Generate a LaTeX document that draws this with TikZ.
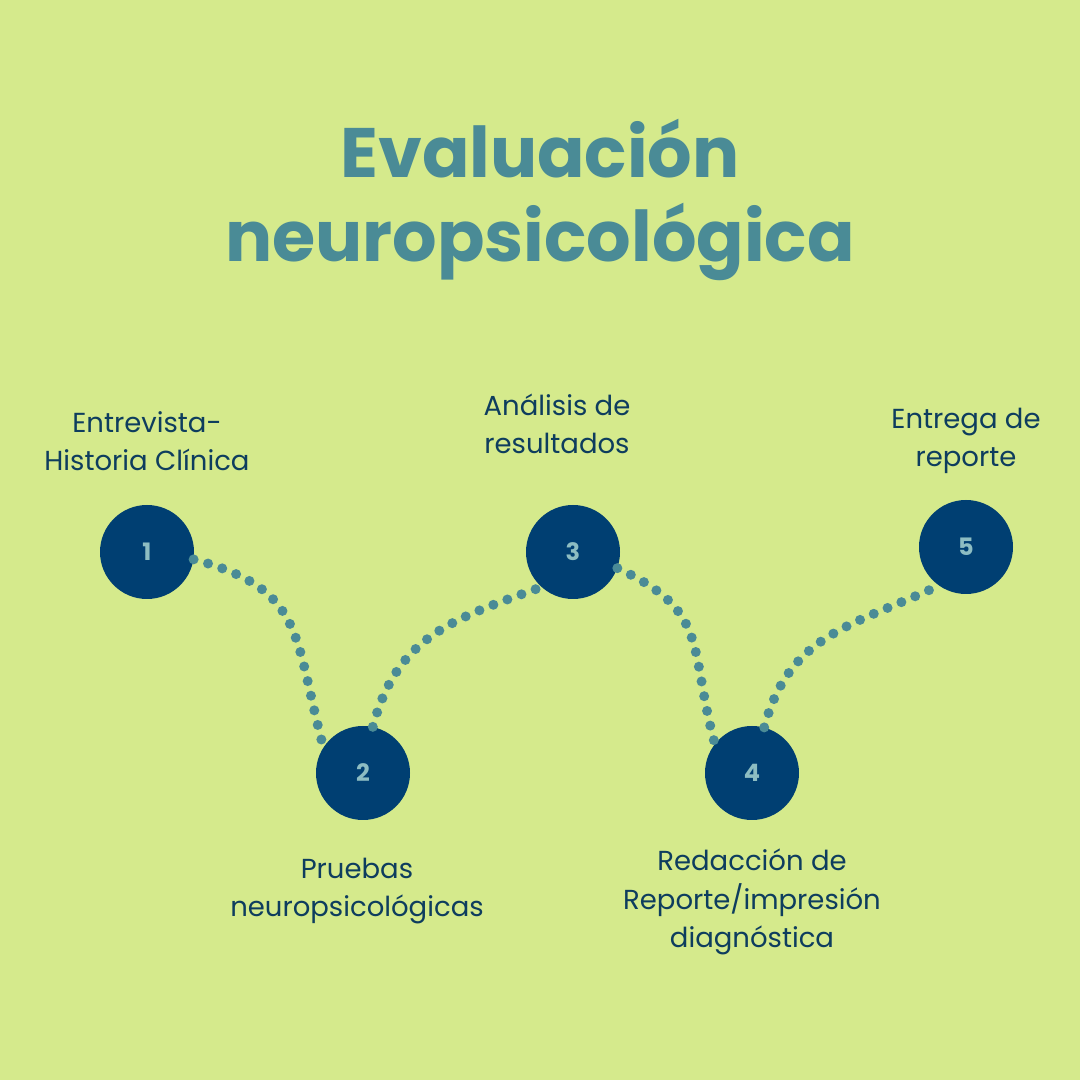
\documentclass[tikz,border=0pt]{standalone}
\usepackage{fontspec}
\setmainfont{Poppins}
\usepackage{tikz}
\usetikzlibrary{positioning}
\usepackage{xcolor}
\definecolor{bglime}{HTML}{D5EA8C}
\definecolor{stepnavy}{HTML}{003F72}
\definecolor{textnavy}{HTML}{0E3D5E}
\definecolor{tealdot}{HTML}{4A8B96}
\definecolor{numteal}{HTML}{8DBDC2}

\begin{document}
\begin{tikzpicture}[
    x=1pt, y=1pt,
    stepdot/.style={circle, fill=stepnavy, minimum size=94pt, inner sep=0pt, text=numteal, font=\fontsize{24}{24}\selectfont\bfseries},
    steplabel/.style={text=textnavy, align=center, font=\fontsize{27.5}{38.5}\selectfont},
    trail/.style={draw=tealdot, line width=10pt, line cap=round, dash pattern=on 0pt off 15pt},
]
\fill[bglime] (0,0) rectangle (1080,1080);
\node[text=tealdot, align=center, font=\fontsize{70}{84}\selectfont\bfseries] (title) at (540,880) {Evaluación\\neuropsicológica};
\node[stepdot] (s1) at (147,528) {1};
\node[stepdot] (s2) at (363,307) {2};
\node[stepdot] (s3) at (573,528) {3};
\node[stepdot] (s4) at (752,307) {4};
\node[stepdot] (s5) at (966,533) {5};
\node[steplabel] (l1) at (147,639) {Entrevista-\\Historia Clínica};
\node[steplabel] (l2) at (357,189) {Pruebas\\neuropsicológicas};
\node[steplabel] (l3) at (557,656) {Análisis de\\resultados};
\node[steplabel] (l4) at (752,178) {Redacción de\\Reporte/impresión\\diagnóstica};
\node[steplabel] (l5) at (966,639) {Entrega de\\reporte};
\draw[trail] (s1.-9) to[out=-15, in=105, looseness=1.3] (s2.147);
\draw[trail] (s2.78) to[out=75, in=200, looseness=1.1] (s3.228);
\draw[trail] (s3.-20) to[out=-25, in=105, looseness=1.3] (s4.142);
\draw[trail] (s4.75) to[out=75, in=205, looseness=1.1] (s5.235);
\end{tikzpicture}
\end{document}
